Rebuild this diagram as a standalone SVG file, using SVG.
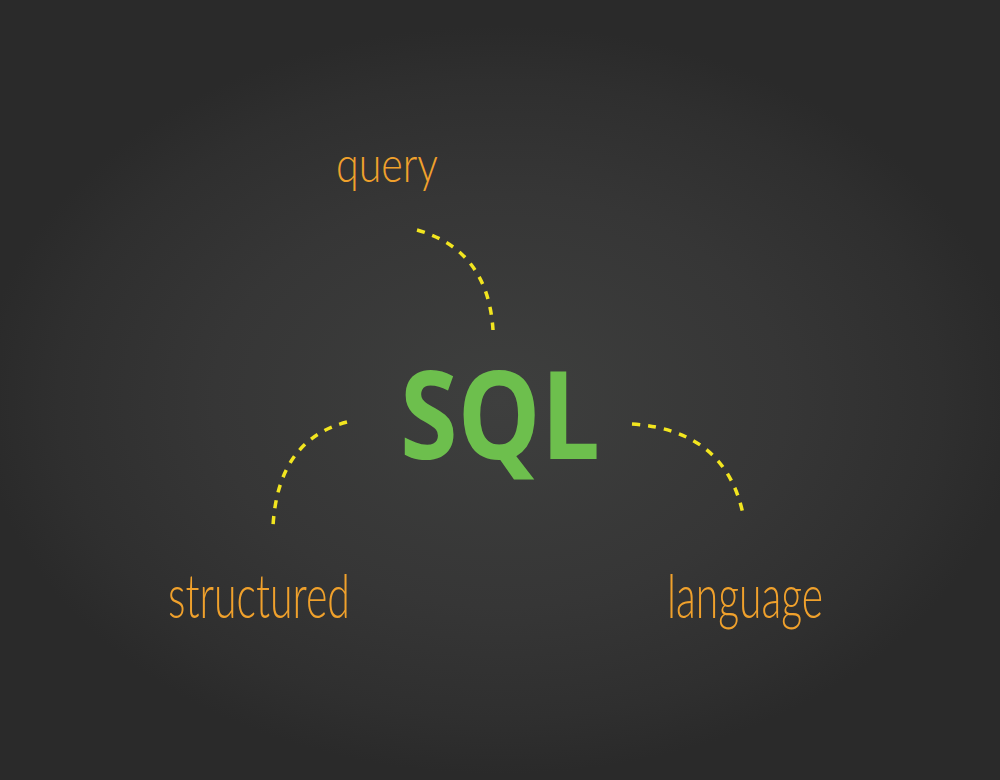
<svg xmlns="http://www.w3.org/2000/svg" width="1000" height="780" viewBox="0 0 1000 780">
  <defs>
    <radialGradient id="board" cx="500" cy="400" r="520" gradientUnits="userSpaceOnUse" gradientTransform="translate(500 400) scale(1 0.72) translate(-500 -400)">
      <stop offset="0" stop-color="#3e3f3e"/>
      <stop offset="0.55" stop-color="#363636"/>
      <stop offset="0.85" stop-color="#2f2f2f"/>
      <stop offset="1" stop-color="#2a2a2a"/>
    </radialGradient>
  </defs>
  <style>
    .word { font-family: "Lato", "Open Sans", "Liberation Sans", sans-serif; font-weight: 300; fill: #f0a12c; }
    .sql { font-family: "Open Sans", "Liberation Sans", sans-serif; font-weight: 700; fill: #6dbf4d; }
    .link { fill: none; stroke: #f2e51f; stroke-width: 3.5; stroke-dasharray: 8 8; }
  </style>
  <rect width="1000" height="780" fill="#2b2b2b"/>
  <rect width="1000" height="780" fill="url(#board)"/>
  <g id="connectors">
    <path class="link" d="M417,230 Q488,250 493,330"/>
    <path class="link" d="M347,422 Q278,440 273,526"/>
    <path class="link" d="M632,424 Q725,430 743,514"/>
  </g>
  <g id="node-sql">
    <text class="sql" x="400" y="459" font-size="122" textLength="200" lengthAdjust="spacingAndGlyphs">SQL</text>
  </g>
  <g id="node-query">
    <text class="word" x="336" y="182" font-size="50" textLength="102" lengthAdjust="spacingAndGlyphs">query</text>
  </g>
  <g id="node-structured">
    <text class="word" x="168" y="618" font-size="62" textLength="182" lengthAdjust="spacingAndGlyphs">structured</text>
  </g>
  <g id="node-language">
    <text class="word" x="667" y="618" font-size="62" textLength="156" lengthAdjust="spacingAndGlyphs">language</text>
  </g>
</svg>
